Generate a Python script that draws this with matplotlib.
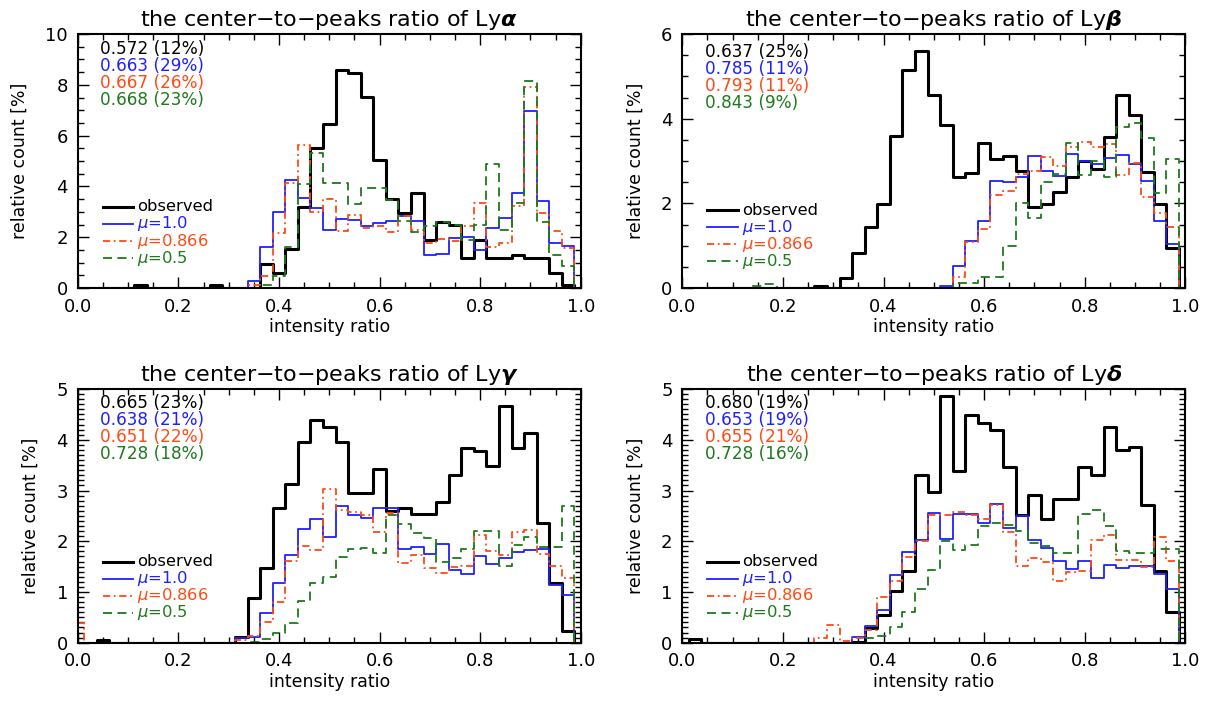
import matplotlib
matplotlib.use("Agg")
import matplotlib.pyplot as plt
from matplotlib.ticker import MultipleLocator
import numpy as np

# histogram values (relative count in %), one point every 0.025 from 0 to 1
ratio = np.linspace(0.0, 1.0, 41)


def hist(start, vals, extra=None):
    h = np.zeros(41)
    h[start:start + len(vals)] = vals
    if extra:
        for k, v in extra.items():
            h[k] = v
    return h


obs_a = hist(15, [0.94, 0.59, 1.53, 3.18, 5.53, 6.46, 8.58, 8.48, 7.51, 5.05, 3.51, 2.95, 3.76,
                  1.9, 2.58, 2.48, 1.18, 1.9, 1.18, 1.18, 1.28, 1.2, 1.2, 0.59, 0.13], {5: 0.1, 11: 0.1})
mu10_a = hist(14, [0.26, 1.6, 3.01, 4.26, 3.54, 3.15, 2.29, 2.73, 2.66, 2.45, 2.56, 2.62, 2.82,
                   2.62, 1.28, 1.34, 1.97, 1.99, 1.5, 2.36, 2.75, 3.73, 6.95, 3.43, 1.77, 1.64])
mu866_a = hist(14, [0.1, 0.46, 2.16, 4.13, 5.64, 3.01, 3.5, 2.25, 2.88, 2.36, 2.45, 2.19, 2.82,
                    2.29, 1.77, 1.93, 1.87, 2.46, 3.34, 1.61, 1.77, 3.24, 7.9, 2.95, 2.23, 1.57])
mu05_a = hist(15, [0.13, 0.46, 1.6, 4.1, 5.3, 4.15, 4.15, 3.3, 3.95, 3.95, 3.45, 2.62, 2.2,
                   2.45, 2.58, 2.5, 1.9, 2.5, 4.9, 2.3, 3.35, 8.15, 2.6, 1.3, 0.85])

obs_b = hist(13, [0.23, 0.82, 1.43, 1.98, 3.6, 5.16, 5.6, 4.57, 3.84, 2.63, 2.71, 3.42, 3.04,
                  3.12, 2.76, 1.92, 1.98, 2.26, 2.63, 3.0, 2.81, 3.56, 4.55, 4.08, 2.75, 1.98, 0.94], {11: 0.05})
mu10_b = hist(21, [0.04, 0.51, 1.12, 1.58, 2.53, 2.5, 2.63, 3.12, 2.77, 2.65, 3.16, 3.0, 2.93,
                   3.08, 3.14, 2.93, 2.53, 1.58, 1.03])
mu866_b = hist(22, [0.25, 1.08, 1.4, 2.19, 2.3, 2.69, 2.77, 3.1, 2.88, 3.34, 3.44, 3.34, 3.4,
                    2.67, 2.95, 2.15, 1.76, 1.44])
mu05_b = hist(22, [0.11, 0.12, 0.25, 0.25, 1.0, 2.0, 1.66, 2.51, 2.7, 3.42, 2.67, 2.99, 2.63,
                   3.8, 3.9, 3.54, 2.25, 3.05], {6: 0.05, 7: 0.1})

obs_g = hist(13, [0.12, 0.88, 1.47, 2.65, 3.13, 3.95, 4.38, 4.25, 3.95, 2.95, 2.95, 3.42, 2.6,
                  2.65, 2.53, 2.53, 2.77, 3.31, 3.84, 3.78, 3.49, 4.66, 3.84, 4.13, 2.36, 1.18, 0.23], {2: 0.05})
mu10_g = hist(13, [0.09, 0.12, 0.59, 1.17, 1.72, 2.24, 2.43, 2.09, 2.7, 2.52, 2.45, 2.66, 2.66,
                   1.85, 1.89, 1.75, 1.94, 1.43, 1.36, 1.7, 1.55, 1.66, 1.78, 1.83, 1.85, 1.14, 0.95])
mu866_g = hist(13, [0.05, 0.13, 0.41, 0.8, 1.62, 1.91, 1.83, 3.03, 2.61, 2.57, 2.52, 2.19, 2.55,
                    1.57, 1.72, 1.47, 1.37, 1.5, 1.52, 2.13, 1.8, 1.73, 2.19, 2.22, 1.75, 1.51, 1.28], {0: 0.39})
mu05_g = hist(14, [0.02, 0.07, 0.2, 0.39, 0.83, 1.18, 1.3, 1.68, 1.84, 1.86, 1.76, 2.52, 2.34,
                   2.17, 2.06, 1.6, 1.66, 1.84, 2.21, 2.21, 1.51, 1.92, 2.09, 1.89, 1.89, 2.7])

obs_d = hist(14, [0.01, 0.29, 0.54, 1.02, 1.42, 3.31, 2.97, 4.87, 3.38, 4.48, 4.33, 4.2, 3.46,
                  2.51, 2.92, 2.43, 2.84, 2.84, 3.46, 3.31, 4.25, 3.79, 3.85, 2.71, 1.42, 0.61], {1: 0.08})
mu10_d = hist(14, [0.12, 0.33, 0.64, 1.33, 1.78, 2.03, 2.56, 2.05, 2.53, 2.53, 2.36, 2.74, 2.26,
                   2.49, 2.03, 1.87, 1.61, 1.46, 1.61, 1.28, 1.54, 1.48, 1.51, 1.51, 1.35, 1.05])
mu866_d = hist(11, [0.1, 0.34, 0.03, 0.1, 0.26, 0.9, 1.21, 1.69, 2.0, 2.51, 2.51, 2.58, 2.51,
                    2.43, 2.71, 2.18, 1.52, 1.66, 1.59, 1.21, 1.39, 1.41, 2.02, 2.12, 1.64, 1.64,
                    1.5, 2.09, 1.62])
mu05_d = hist(15, [0.1, 0.14, 0.3, 0.6, 1.05, 1.44, 2.0, 1.82, 1.92, 2.3, 2.35, 2.32, 2.21,
                   1.97, 1.9, 1.77, 1.76, 2.54, 2.62, 2.3, 1.8, 1.77, 1.76, 1.84, 1.84])

lines = ["alpha", "beta", "gamma", "delta"]
ymax = [10, 6, 5, 5]
ystep = [2, 2, 1, 1]
yminor = [0.5, 0.5, 0.1, 0.1]
stats = [
    ["0.572 (12%)", "0.663 (29%)", "0.667 (26%)", "0.668 (23%)"],
    ["0.637 (25%)", "0.785 (11%)", "0.793 (11%)", "0.843 (9%)"],
    ["0.665 (23%)", "0.638 (21%)", "0.651 (22%)", "0.728 (18%)"],
    ["0.680 (19%)", "0.653 (19%)", "0.655 (21%)", "0.728 (16%)"],
]
series = [
    [obs_a, mu10_a, mu866_a, mu05_a],
    [obs_b, mu10_b, mu866_b, mu05_b],
    [obs_g, mu10_g, mu866_g, mu05_g],
    [obs_d, mu10_d, mu866_d, mu05_d],
]
labels = ["observed", r"$\mu$=1.0", r"$\mu$=0.866", r"$\mu$=0.5"]
colors = ["black", "#1f1fff", "#ff4a14", "#1d7a1d"]
styles = ["-", "-", (0, (4, 2, 1, 2)), (0, (5, 3))]
widths = [2.2, 1.3, 1.3, 1.3]

fig = plt.figure(figsize=(12.13, 7.09), dpi=100)
pos = [
    (0.0641, 0.5938, 0.4147, 0.3582),
    (0.5625, 0.5938, 0.4147, 0.3582),
    (0.0641, 0.0935, 0.4147, 0.3578),
    (0.5625, 0.0935, 0.4147, 0.3578),
]

for p in range(4):
    ax = fig.add_axes(pos[p])
    for s in range(4):
        ax.step(ratio, series[p][s], where="mid", color=colors[s], ls=styles[s],
                lw=widths[s])
    ax.set_xlim(0, 1)
    ax.set_ylim(0, ymax[p])
    ax.xaxis.set_major_locator(MultipleLocator(0.2))
    ax.xaxis.set_minor_locator(MultipleLocator(0.05))
    ax.yaxis.set_major_locator(MultipleLocator(ystep[p]))
    ax.yaxis.set_minor_locator(MultipleLocator(yminor[p]))
    ax.tick_params(which="both", direction="in", top=True, right=True, width=1.0,
                   labelsize=13, pad=7)
    ax.tick_params(which="major", length=8)
    ax.tick_params(which="minor", length=4)
    for sp in ax.spines.values():
        sp.set_linewidth(1.5)
    ax.set_xticklabels([f"{v:.1f}" for v in ax.get_xticks()])
    ax.set_xlabel("intensity ratio", fontsize=12.5, labelpad=2)
    ax.set_ylabel("relative count [%]", fontsize=12.5, labelpad=12)
    ax.set_title("the center\u2212to\u2212peaks ratio of Ly$\\boldsymbol{\\%s}$" % lines[p],
                 fontsize=16, pad=6)
    dy = 0.012 if p == 1 else 0.0
    for s in range(4):
        ax.text(0.045, 0.943 - dy - s * 0.067, stats[p][s], color=colors[s], fontsize=12.2,
                va="center", ha="left", transform=ax.transAxes)
    # legend drawn by hand: short sample line + coloured label
    for s in range(4):
        yy = 0.319 - dy - s * 0.067
        ax.plot([0.05, 0.11], [yy, yy], transform=ax.transAxes, color=colors[s],
                ls=styles[s], lw=widths[s])
        ax.text(0.118, yy, labels[s], color=colors[s], fontsize=11.8, va="center",
                ha="left", transform=ax.transAxes)

fig.savefig("out.png", dpi=100)
